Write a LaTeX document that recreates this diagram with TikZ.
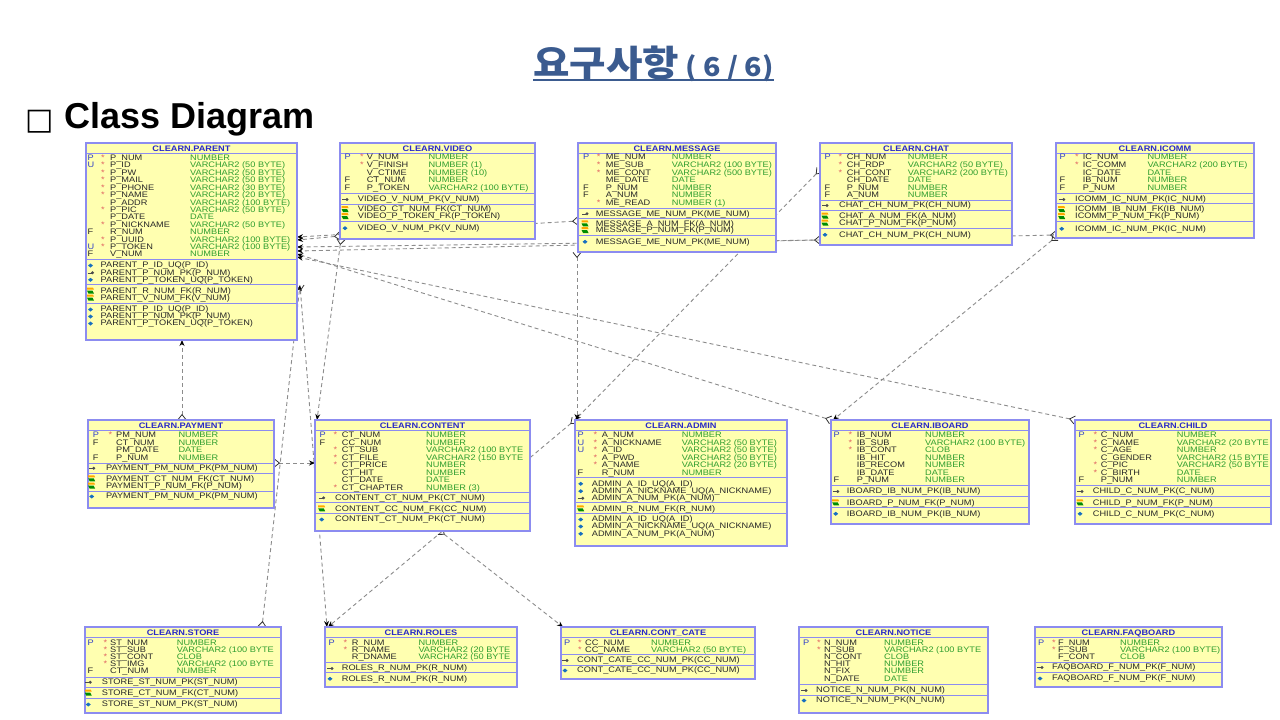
\documentclass[tikz,border=0pt]{standalone}
\usepackage{fontspec}
\setmainfont{Liberation Sans}
\newfontfamily\tblf[FakeStretch=1.15]{Liberation Sans}
\newfontfamily\krf[FakeStretch=1.1]{Noto Sans CJK KR}
\newfontfamily\symf{DejaVu Sans}
\usetikzlibrary{arrows.meta,calc}
\pgfdeclarelayer{bg}
\pgfsetlayers{bg,main}
\definecolor{tfill}{HTML}{FFFFB0}
\definecolor{tline}{HTML}{8C8CF0}
\definecolor{ttitle}{HTML}{2828C8}
\definecolor{ttype}{HTML}{2F9E2F}
\definecolor{tflag}{HTML}{3040C8}
\definecolor{tstar}{HTML}{E06060}
\definecolor{tname}{HTML}{282828}
\definecolor{hdr}{HTML}{3B5B8F}
\tikzset{
  tbox/.style={draw=tline, fill=tfill, line width=1.3pt, inner sep=0pt, outer sep=0pt},
  tl/.style={draw=tline, line width=1pt},
  ttl/.style={font=\tblf\bfseries\fontsize{8}{8}\selectfont, text=ttitle, anchor=base, yshift=-2.9pt, inner sep=0pt},
  fl/.style={font=\tblf\fontsize{8}{8}\selectfont, text=tflag, anchor=base west, yshift=-2.9pt, inner sep=0pt},
  st/.style={font=\tblf\fontsize{8}{8}\selectfont, text=tstar, anchor=base west, yshift=-2.9pt, inner sep=0pt},
  cnm/.style={font=\tblf\fontsize{8}{8}\selectfont, text=tname, anchor=base west, yshift=-2.9pt, inner sep=0pt},
  ctp/.style={font=\tblf\fontsize{8}{8}\selectfont, text=ttype, anchor=base west, yshift=-2.9pt, inner sep=0pt},
  kt/.style={font=\tblf\fontsize{8}{8}\selectfont, text=tname, anchor=base west, yshift=-2.9pt, inner sep=0pt},
  rel/.style={draw=black!45, line width=0.9pt, dash pattern=on 4pt off 3pt},
  crow/.tip={Straight Barb[reversed,length=5pt,width=8pt,line width=0.8pt,color=black!80]},
  one/.tip={Stealth[length=6pt,width=5pt,color=black]},
  pkicon/.pic={\draw[line width=1pt,black!70] (-3,0.8)--(1,0.8); \fill[black!70] (2,0.5) circle (1.6);},
  fkicon/.pic={\fill[orange!70!yellow] (-3.5,-3)--(2.5,-3)--(3.5,-1)--(-3.5,-1)--cycle;
               \fill[green!55!black] (-3.5,0)--(2,0)--(3.5,3)--(-2,3)--cycle;},
  uqicon/.pic={\fill[cyan!50!blue] (-2.5,0.5)--(0,-1.5)--(2.5,0.5)--(0,2.5)--cycle;}
}
\newcommand\FF{\textcolor{tname}{F}}
\newcommand\setcols[6]{\def\xF{#1}\def\xS{#2}\def\xN{#3}\def\xT{#4}\def\xI{#5}\def\xK{#6}}
\newcommand\crow[5]{%
  \node[fl] at (\xF,#1) {#2};
  \node[st] at (\xS,#1) {#3};
  \node[cnm] at (\xN,#1) {#4};
  \node[ctp] at (\xT,#1) {#5};}
\newcommand\krow[3]{%
  \pic at (\xI,#1) {#2};
  \node[kt] at (\xK,#1) {#3};}
\newcommand\sep[1]{\draw[tl] (\xa,#1) -- (\xb,#1);}
\newenvironment{tbl}[6]{%
  \node[tbox, anchor=north west, minimum width={(#4-#2)*1pt}, minimum height={(#5-#3)*1pt}] (#1) at (#2,#3) {};
  \def\xa{#2}\def\xb{#4}%
  \begin{scope}
  \clip (#2,#3) rectangle (#4,#5);
  \node[ttl] at ({(#2+#4)/2},{#3+5.5}) {#6};
  \draw[tl] (#2,{#3+10}) -- (#4,{#3+10});
}{\end{scope}}
\begin{document}
\begin{tikzpicture}[x=1pt,y=-1pt]
\useasboundingbox (0,0) rectangle (1280,720);
\begin{pgfonlayer}{bg}
\fill[white] (0,0) rectangle (1280,720);
\end{pgfonlayer}

% headings
\node[anchor=base west, inner sep=0pt, text=hdr, font=\krf\bfseries\fontsize{36}{36}\selectfont] (ttl) at (533,76) {요구사항{\fontsize{26}{26}\selectfont\ ( 6 / 6)}};
\draw[hdr, line width=2pt] ($(ttl.base west)+(0,3.5)$) -- ($(ttl.base east)+(0,3.5)$);
\node[anchor=base west, inner sep=0pt, font=\symf\fontsize{30}{30}\selectfont] (sq) at (25,129) {□};
\node[anchor=base west, inner sep=0pt, font=\bfseries\fontsize{36}{36}\selectfont] (cd) at (64,128) {Class Diagram};

% PARENT
\begin{tbl}{parent}{86}{143}{297}{340}{CLEARN.PARENT}
\setcols{87.5}{101}{110}{190}{90.5}{100.5}
\crow{157.3}{P}{*}{P\_NUM}{NUMBER}
\crow{165}{U}{*}{P\_ID}{VARCHAR2 (50 BYTE)}
\crow{172.3}{}{*}{P\_PW}{VARCHAR2 (50 BYTE)}
\crow{180}{}{*}{P\_MAIL}{VARCHAR2 (50 BYTE)}
\crow{187.3}{}{*}{P\_PHONE}{VARCHAR2 (30 BYTE)}
\crow{194.3}{}{*}{P\_NAME}{VARCHAR2 (20 BYTE)}
\crow{202.3}{}{}{P\_ADDR}{VARCHAR2 (100 BYTE)}
\crow{209.3}{}{*}{P\_PIC}{VARCHAR2 (50 BYTE)}
\crow{216.7}{}{}{P\_DATE}{DATE}
\crow{224.3}{}{*}{P\_NICKNAME}{VARCHAR2 (50 BYTE)}
\crow{231.7}{\FF}{}{R\_NUM}{NUMBER}
\crow{239.3}{}{*}{P\_UUID}{VARCHAR2 (100 BYTE)}
\crow{246.7}{U}{*}{P\_TOKEN}{VARCHAR2 (100 BYTE)}
\crow{254}{\FF}{}{V\_NUM}{NUMBER}
\sep{259}
\krow{265}{uqicon}{PARENT\_P\_ID\_UQ(P\_ID)}
\krow{272.3}{pkicon}{PARENT\_P\_NUM\_PK(P\_NUM)}
\krow{279.3}{uqicon}{PARENT\_P\_TOKEN\_UQ(P\_TOKEN)}
\sep{284.7}
\krow{290.7}{fkicon}{PARENT\_R\_NUM\_FK(R\_NUM)}
\krow{297.7}{fkicon}{PARENT\_V\_NUM\_FK(V\_NUM)}
\sep{303.3}
\krow{309}{uqicon}{PARENT\_P\_ID\_UQ(P\_ID)}
\krow{316}{uqicon}{PARENT\_P\_NUM\_PK(P\_NUM)}
\krow{323}{uqicon}{PARENT\_P\_TOKEN\_UQ(P\_TOKEN)}
\end{tbl}

% VIDEO
\begin{tbl}{video}{340}{143}{535}{239}{CLEARN.VIDEO}
\setcols{344.3}{360}{366.7}{428.3}{345}{357.7}
\crow{156.7}{P}{*}{V\_NUM}{NUMBER}
\crow{165}{}{*}{V\_FINISH}{NUMBER (1)}
\crow{172.3}{}{}{V\_CTIME}{NUMBER (10)}
\crow{180}{\FF}{}{CT\_NUM}{NUMBER}
\crow{187.3}{\FF}{}{P\_TOKEN}{VARCHAR2 (100 BYTE)}
\sep{193.3}
\krow{199}{pkicon}{VIDEO\_V\_NUM\_PK(V\_NUM)}
\sep{204}
\krow{209}{fkicon}{VIDEO\_CT\_NUM\_FK(CT\_NUM)}
\krow{216}{fkicon}{VIDEO\_P\_TOKEN\_FK(P\_TOKEN)}
\sep{221.7}
\krow{227.7}{uqicon}{VIDEO\_V\_NUM\_PK(V\_NUM)}
\end{tbl}

% MESSAGE
\begin{tbl}{message}{578}{143}{776}{252}{CLEARN.MESSAGE}
\setcols{583}{596.7}{605.7}{671.7}{585}{595.7}
\crow{156.7}{P}{*}{ME\_NUM}{NUMBER}
\crow{165}{}{*}{ME\_SUB}{VARCHAR2 (100 BYTE)}
\crow{172.3}{}{*}{ME\_CONT}{VARCHAR2 (500 BYTE)}
\crow{180}{}{}{ME\_DATE}{DATE}
\crow{187.3}{\FF}{}{P\_NUM}{NUMBER}
\crow{194.3}{\FF}{}{A\_NUM}{NUMBER}
\crow{202.3}{}{*}{ME\_READ}{NUMBER (1)}
\sep{208}
\krow{213.3}{pkicon}{MESSAGE\_ME\_NUM\_PK(ME\_NUM)}
\sep{218.3}
\krow{223.3}{fkicon}{MESSAGE\_A\_NUM\_FK(A\_NUM)}
\krow{230}{fkicon}{MESSAGE\_P\_NUM\_FK(P\_NUM)}
\sep{235.7}
\krow{241.3}{uqicon}{MESSAGE\_ME\_NUM\_PK(ME\_NUM)}
\end{tbl}

% CHAT
\begin{tbl}{chat}{820}{143}{1012}{245}{CLEARN.CHAT}
\setcols{824.3}{838.3}{846.7}{907.7}{825}{839}
\crow{156.7}{P}{*}{CH\_NUM}{NUMBER}
\crow{165}{}{*}{CH\_RDP}{VARCHAR2 (50 BYTE)}
\crow{172.3}{}{*}{CH\_CONT}{VARCHAR2 (200 BYTE)}
\crow{180}{}{}{CH\_DATE}{DATE}
\crow{187.3}{\FF}{}{P\_NUM}{NUMBER}
\crow{194.3}{\FF}{}{A\_NUM}{NUMBER}
\sep{200}
\krow{205}{pkicon}{CHAT\_CH\_NUM\_PK(CH\_NUM)}
\sep{210.7}
\krow{215.7}{fkicon}{CHAT\_A\_NUM\_FK(A\_NUM)}
\krow{222.7}{fkicon}{CHAT\_P\_NUM\_FK(P\_NUM)}
\sep{228.3}
\krow{234.3}{uqicon}{CHAT\_CH\_NUM\_PK(CH\_NUM)}
\end{tbl}

% ICOMM
\begin{tbl}{icomm}{1056}{143}{1254}{238}{CLEARN.ICOMM}
\setcols{1059.3}{1075}{1082.7}{1147.3}{1061.7}{1075}
\crow{156.7}{P}{*}{IC\_NUM}{NUMBER}
\crow{165}{}{*}{IC\_COMM}{VARCHAR2 (200 BYTE)}
\crow{172.3}{}{}{IC\_DATE}{DATE}
\crow{180}{\FF}{}{IB\_NUM}{NUMBER}
\crow{187.3}{\FF}{}{P\_NUM}{NUMBER}
\sep{193.3}
\krow{199}{pkicon}{ICOMM\_IC\_NUM\_PK(IC\_NUM)}
\sep{203.7}
\krow{209}{fkicon}{ICOMM\_IB\_NUM\_FK(IB\_NUM)}
\krow{216}{fkicon}{ICOMM\_P\_NUM\_FK(P\_NUM)}
\sep{221.7}
\krow{228.3}{uqicon}{ICOMM\_IC\_NUM\_PK(IC\_NUM)}
\end{tbl}

% PAYMENT
\begin{tbl}{payment}{88}{420}{274}{508}{CLEARN.PAYMENT}
\setcols{92.7}{108.3}{116}{178.3}{91.7}{106}
\crow{435}{P}{*}{PM\_NUM}{NUMBER}
\crow{442.7}{\FF}{}{CT\_NUM}{NUMBER}
\crow{450}{}{}{PM\_DATE}{DATE}
\crow{457.7}{\FF}{}{P\_NUM}{NUMBER}
\sep{463}
\krow{467.7}{pkicon}{PAYMENT\_PM\_NUM\_PK(PM\_NUM)}
\sep{473.3}
\krow{478.3}{fkicon}{PAYMENT\_CT\_NUM\_FK(CT\_NUM)}
\krow{485.7}{fkicon}{PAYMENT\_P\_NUM\_FK(P\_NUM)}
\sep{491}
\krow{496}{uqicon}{PAYMENT\_PM\_NUM\_PK(PM\_NUM)}
\end{tbl}

% CONTENT
\begin{tbl}{content}{315}{420}{530}{531}{CLEARN.CONTENT}
\setcols{319.3}{333.3}{341.7}{426}{321.7}{335}
\crow{435}{P}{*}{CT\_NUM}{NUMBER}
\crow{442.7}{\FF}{}{CC\_NUM}{NUMBER}
\crow{450}{}{*}{CT\_SUB}{VARCHAR2 (100 BYTE}
\crow{457.7}{}{*}{CT\_FILE}{VARCHAR2 (150 BYTE}
\crow{465}{}{*}{CT\_PRICE}{NUMBER}
\crow{472.3}{}{}{CT\_HIT}{NUMBER}
\crow{480}{}{}{CT\_DATE}{DATE}
\crow{487.3}{}{*}{CT\_CHAPTER}{NUMBER (3)}
\sep{492.3}
\krow{497.3}{pkicon}{CONTENT\_CT\_NUM\_PK(CT\_NUM)}
\sep{502.7}
\krow{508.3}{fkicon}{CONTENT\_CC\_NUM\_FK(CC\_NUM)}
\sep{513.7}
\krow{519}{uqicon}{CONTENT\_CT\_NUM\_PK(CT\_NUM)}
\end{tbl}

% ADMIN
\begin{tbl}{admin}{575}{420}{787}{546}{CLEARN.ADMIN}
\setcols{577.3}{593.3}{601.7}{681.7}{580.7}{591.7}
\crow{435}{P}{*}{A\_NUM}{NUMBER}
\crow{443}{U}{*}{A\_NICKNAME}{VARCHAR2 (50 BYTE)}
\crow{450}{U}{*}{A\_ID}{VARCHAR2 (50 BYTE)}
\crow{458}{}{*}{A\_PWD}{VARCHAR2 (50 BYTE)}
\crow{465}{}{*}{A\_NAME}{VARCHAR2 (20 BYTE)}
\crow{472.3}{\FF}{}{R\_NUM}{NUMBER}
\sep{477.3}
\krow{483.3}{uqicon}{ADMIN\_A\_ID\_UQ(A\_ID)}
\krow{490.7}{uqicon}{ADMIN\_A\_NICKNAME\_UQ(A\_NICKNAME)}
\krow{497.7}{pkicon}{ADMIN\_A\_NUM\_PK(A\_NUM)}
\sep{502.7}
\krow{508.3}{fkicon}{ADMIN\_R\_NUM\_FK(R\_NUM)}
\sep{513.7}
\krow{519}{uqicon}{ADMIN\_A\_ID\_UQ(A\_ID)}
\krow{526}{uqicon}{ADMIN\_A\_NICKNAME\_UQ(A\_NICKNAME)}
\krow{533.3}{uqicon}{ADMIN\_A\_NUM\_PK(A\_NUM)}
\end{tbl}

% IBOARD
\begin{tbl}{iboard}{831}{420}{1029}{524}{CLEARN.IBOARD}
\setcols{833.3}{848.3}{856.7}{925}{835.7}{846.7}
\crow{435}{P}{*}{IB\_NUM}{NUMBER}
\crow{443}{}{*}{IB\_SUB}{VARCHAR2 (100 BYTE)}
\crow{450}{}{*}{IB\_CONT}{CLOB}
\crow{458}{}{}{IB\_HIT}{NUMBER}
\crow{465}{}{}{IB\_RECOM}{NUMBER}
\crow{472.3}{}{}{IB\_DATE}{DATE}
\crow{480}{\FF}{}{P\_NUM}{NUMBER}
\sep{485.7}
\krow{491}{pkicon}{IBOARD\_IB\_NUM\_PK(IB\_NUM)}
\sep{496.7}
\krow{502.3}{fkicon}{IBOARD\_P\_NUM\_FK(P\_NUM)}
\sep{507.7}
\krow{513.3}{uqicon}{IBOARD\_IB\_NUM\_PK(IB\_NUM)}
\end{tbl}

% CHILD
\begin{tbl}{child}{1075}{420}{1271}{524}{CLEARN.CHILD}
\setcols{1078.3}{1093.3}{1100.7}{1176.7}{1080}{1092.7}
\crow{435}{P}{*}{C\_NUM}{NUMBER}
\crow{443}{}{*}{C\_NAME}{VARCHAR2 (20 BYTE}
\crow{450}{}{*}{C\_AGE}{NUMBER}
\crow{458}{}{}{C\_GENDER}{VARCHAR2 (15 BYTE}
\crow{465}{}{*}{C\_PIC}{VARCHAR2 (50 BYTE}
\crow{472.3}{}{*}{C\_BIRTH}{DATE}
\crow{480}{\FF}{}{P\_NUM}{NUMBER}
\sep{485.7}
\krow{491}{pkicon}{CHILD\_C\_NUM\_PK(C\_NUM)}
\sep{496.7}
\krow{502.3}{fkicon}{CHILD\_P\_NUM\_FK(P\_NUM)}
\sep{507.7}
\krow{513.3}{uqicon}{CHILD\_C\_NUM\_PK(C\_NUM)}
\end{tbl}

% STORE
\begin{tbl}{store}{85}{627}{281}{713}{CLEARN.STORE}
\setcols{87.3}{103.3}{110}{176.7}{88.3}{101.7}
\crow{642.3}{P}{*}{ST\_NUM}{NUMBER}
\crow{649.3}{}{*}{ST\_SUB}{VARCHAR2 (100 BYTE}
\crow{656.7}{}{*}{ST\_CONT}{CLOB}
\crow{664}{}{*}{ST\_IMG}{VARCHAR2 (100 BYTE}
\crow{671}{\FF}{}{CT\_NUM}{NUMBER}
\sep{677.3}
\krow{681.7}{pkicon}{STORE\_ST\_NUM\_PK(ST\_NUM)}
\sep{687.3}
\krow{692.7}{fkicon}{STORE\_CT\_NUM\_FK(CT\_NUM)}
\sep{698.3}
\krow{704}{uqicon}{STORE\_ST\_NUM\_PK(ST\_NUM)}
\end{tbl}

% ROLES
\begin{tbl}{roles}{325}{627}{517}{687}{CLEARN.ROLES}
\setcols{328.3}{343.3}{351.7}{418.3}{330}{341.7}
\crow{642.3}{P}{*}{R\_NUM}{NUMBER}
\crow{649.3}{}{*}{R\_NAME}{VARCHAR2 (20 BYTE}
\crow{656.7}{}{}{R\_DNAME}{VARCHAR2 (50 BYTE}
\sep{662.3}
\krow{668}{pkicon}{ROLES\_R\_NUM\_PK(R\_NUM)}
\sep{672.7}
\krow{678.3}{uqicon}{ROLES\_R\_NUM\_PK(R\_NUM)}
\end{tbl}

% CONT_CATE
\begin{tbl}{contcate}{561}{627}{755}{679}{CLEARN.CONT\_CATE}
\setcols{564}{578}{585}{651}{565}{577}
\crow{642.3}{P}{*}{CC\_NUM}{NUMBER}
\crow{649.3}{}{*}{CC\_NAME}{VARCHAR2 (50 BYTE)}
\sep{654}
\krow{660}{pkicon}{CONT\_CATE\_CC\_NUM\_PK(CC\_NUM)}
\sep{665}
\krow{670}{uqicon}{CONT\_CATE\_CC\_NUM\_PK(CC\_NUM)}
\end{tbl}

% NOTICE
\begin{tbl}{notice}{799}{627}{988}{713}{CLEARN.NOTICE}
\setcols{803}{817}{824}{884}{804}{816}
\crow{642.3}{P}{*}{N\_NUM}{NUMBER}
\crow{649.3}{}{*}{N\_SUB}{VARCHAR2 (100 BYTE}
\crow{656.7}{}{}{N\_CONT}{CLOB}
\crow{664}{}{}{N\_HIT}{NUMBER}
\crow{671}{}{}{N\_FIX}{NUMBER}
\crow{679}{}{}{N\_DATE}{DATE}
\sep{684}
\krow{690}{pkicon}{NOTICE\_N\_NUM\_PK(N\_NUM)}
\sep{695}
\krow{700}{uqicon}{NOTICE\_N\_NUM\_PK(N\_NUM)}
\end{tbl}

% FAQBOARD
\begin{tbl}{faqboard}{1035}{627}{1222}{687}{CLEARN.FAQBOARD}
\setcols{1038}{1052}{1058}{1120}{1040}{1052}
\crow{642.3}{P}{*}{F\_NUM}{NUMBER}
\crow{649.3}{}{*}{F\_SUB}{VARCHAR2 (100 BYTE)}
\crow{656.7}{}{}{F\_CONT}{CLOB}
\sep{662}
\krow{667}{pkicon}{FAQBOARD\_F\_NUM\_PK(F\_NUM)}
\sep{672}
\krow{678}{uqicon}{FAQBOARD\_F\_NUM\_PK(F\_NUM)}
\end{tbl}

% connectors
\begin{pgfonlayer}{bg}
\draw[rel, crow-one] (payment.north -| 182,0) -- (parent.south -| 182,0);
\draw[rel, crow-one] (payment.east |- 0,463) -- (content.west |- 0,463);
\draw[rel, crow-one] (video.west |- 0,236) -- (parent.east |- 0,240);
\draw[rel, crow-one] (message.west |- 0,221) -- (parent.east |- 0,237);
\draw[rel, crow-one] (chat.west |- 0,240) -- (parent.east |- 0,247);
\draw[rel, crow-one] (icomm.west |- 0,235) -- (parent.east |- 0,251);
\draw[rel, crow-one] (iboard.north west) -- (parent.east |- 0,254);
\draw[rel, crow-one] (child.north west) -- (parent.east |- 0,257);
\draw[rel, crow-one] (icomm.west |- 0,237) -- ([xshift=2pt]iboard.north west);
\draw[rel, crow-one] (chat.west |- 0,170) -- (admin.north west);
\draw[rel, crow-one] (message.south -| 577,0) -- (admin.north -| 577,0);
\draw[rel, crow-one] (admin.north west) -- (roles.north -| 328,0);
\draw[rel, crow-one] (content.south -| 440,0) -- (contcate.north -| 563,0);
\draw[rel, crow-one] (store.north -| 262,0) -- ([xshift=3pt]parent.east |- 0,285);
\draw[rel, crow-one] ([xshift=3pt]parent.east |- 0,285) -- (roles.north -| 327,0);
\draw[rel, crow-one] (video.south -| 341,0) -- (content.north -| 317,0);
\end{pgfonlayer}
\end{tikzpicture}
\end{document}
